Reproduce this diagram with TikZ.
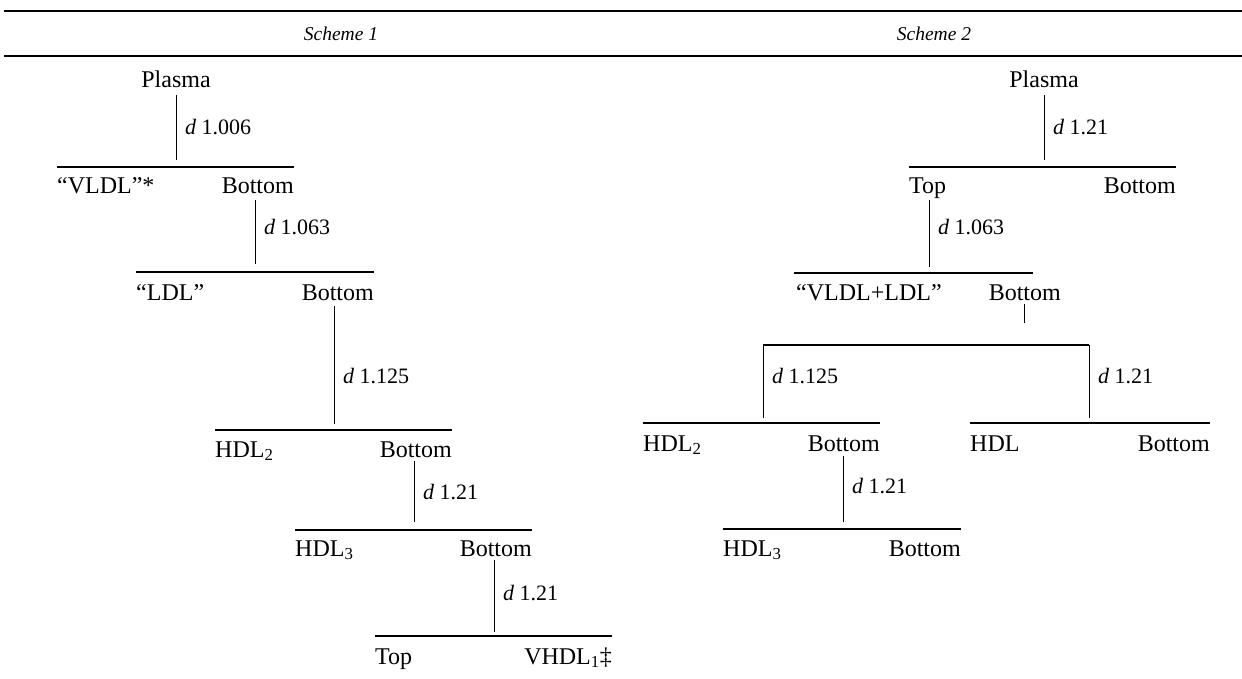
\documentclass[tikz,border=0pt]{standalone}
\usepackage{fontspec}
\setmainfont{Liberation Serif}
\begin{document}
\begin{tikzpicture}[x=1pt,y=-1pt,
  lbl/.style={inner sep=0pt,font=\fontsize{24}{28}\selectfont},
  lw/.style={lbl,anchor=base west},
  le/.style={lbl,anchor=base east},
  lc/.style={lbl,anchor=base},
  dl/.style={inner sep=0pt,anchor=base west,font=\fontsize{22}{26}\selectfont},
  hd/.style={inner sep=0pt,font=\fontsize{19.5}{22}\selectfont\itshape},
  rule/.style={line width=1.1pt},
  conn/.style={line width=0.9pt},
  hrule/.style={line width=1.6pt}]
\useasboundingbox (0,0) rectangle (1242,679);
% header
\coordinate (t1) at (4,11); \coordinate (t2) at (1242,11);
\coordinate (b1) at (4,56); \coordinate (b2) at (1242,56);
\draw[hrule] (t1) -- (t2);
\draw[hrule] (b1) -- (b2);
\node[hd] (h1) at (341,34) {Scheme 1};
\node[hd] (h2) at (934,34) {Scheme 2};

% ---------- Scheme 1 ----------
\node[lc] (p1) at (176,88) {Plasma};
\coordinate (p1a) at (176,95); \coordinate (p1b) at (176,160);
\draw[conn] (p1a) -- (p1b);
\node[dl] (d11) at (185,135) {{\itshape d} 1.006};
\coordinate (r1a) at (57,167); \coordinate (r1b) at (294,167);
\draw[rule] (r1a) -- (r1b);
\node[lw] (vldl) at (57,194) {“VLDL”*};
\node[le] (bo1) at (294,194) {Bottom};

\coordinate (v2a) at (255,200); \coordinate (v2b) at (255,264);
\draw[conn] (v2a) -- (v2b);
\node[dl] (d12) at (264,235) {{\itshape d} 1.063};
\coordinate (r2a) at (136,272); \coordinate (r2b) at (374,272);
\draw[rule] (r2a) -- (r2b);
\node[lw] (ldl) at (136,300) {“LDL”};
\node[le] (bo2) at (374,300) {Bottom};

\coordinate (v3a) at (334,306); \coordinate (v3b) at (334,424);
\draw[conn] (v3a) -- (v3b);
\node[dl] (d13) at (343,383) {{\itshape d} 1.125};
\coordinate (r3a) at (215,430); \coordinate (r3b) at (452,430);
\draw[rule] (r3a) -- (r3b);
\node[lw] (hdl2a) at (215,457) {HDL\textsubscript{2}};
\node[le] (bo3) at (452,457) {Bottom};

\coordinate (v4a) at (414,461); \coordinate (v4b) at (414,522);
\draw[conn] (v4a) -- (v4b);
\node[dl] (d14) at (423,499) {{\itshape d} 1.21};
\coordinate (r4a) at (295,530); \coordinate (r4b) at (532,530);
\draw[rule] (r4a) -- (r4b);
\node[lw] (hdl3a) at (295,556) {HDL\textsubscript{3}};
\node[le] (bo4) at (532,556) {Bottom};

\coordinate (v5a) at (494,560); \coordinate (v5b) at (494,632);
\draw[conn] (v5a) -- (v5b);
\node[dl] (d15) at (503,600) {{\itshape d} 1.21};
\coordinate (r5a) at (375,636); \coordinate (r5b) at (612,636);
\draw[rule] (r5a) -- (r5b);
\node[lw] (top1) at (375,664) {Top};
\node[le] (vhdl) at (612,664) {VHDL\textsubscript{1}‡};

% ---------- Scheme 2 ----------
\node[lc] (p2) at (1044,88) {Plasma};
\coordinate (q1a) at (1044,95); \coordinate (q1b) at (1044,160);
\draw[conn] (q1a) -- (q1b);
\node[dl] (d21) at (1053,135) {{\itshape d} 1.21};
\coordinate (s1a) at (909,167); \coordinate (s1b) at (1176,167);
\draw[rule] (s1a) -- (s1b);
\node[lw] (top2) at (909,194) {Top};
\node[le] (bo21) at (1176,194) {Bottom};

\coordinate (q2a) at (929,200); \coordinate (q2b) at (929,267);
\draw[conn] (q2a) -- (q2b);
\node[dl] (d22) at (938,235) {{\itshape d} 1.063};
\coordinate (s2a) at (794,273); \coordinate (s2b) at (1033,273);
\draw[rule] (s2a) -- (s2b);
\node[lw] (vl) at (796,300) {“VLDL+LDL”};
\node[le] (bo22) at (1061,300) {Bottom};

\coordinate (q3a) at (1024,304); \coordinate (q3b) at (1024,323);
\draw[conn] (q3a) -- (q3b);
\coordinate (brl) at (763,345); \coordinate (brr) at (1089,345);
\draw[rule] (brl) -- (brr);
\coordinate (q4b) at (763,418); \coordinate (q5b) at (1089,418);
\draw[conn] (brl) -- (q4b);
\draw[conn] (brr) -- (q5b);
\node[dl] (d23) at (772,383) {{\itshape d} 1.125};
\node[dl] (d24) at (1098,383) {{\itshape d} 1.21};

\coordinate (s3a) at (643,423); \coordinate (s3b) at (880,423);
\draw[rule] (s3a) -- (s3b);
\node[lw] (hdl2b) at (643,451) {HDL\textsubscript{2}};
\node[le] (bo23) at (880,451) {Bottom};
\coordinate (s4a) at (970,423); \coordinate (s4b) at (1210,423);
\draw[rule] (s4a) -- (s4b);
\node[lw] (hdl) at (970,451) {HDL};
\node[le] (bo24) at (1210,451) {Bottom};

\coordinate (q6a) at (843,456); \coordinate (q6b) at (843,522);
\draw[conn] (q6a) -- (q6b);
\node[dl] (d25) at (852,493) {{\itshape d} 1.21};
\coordinate (s5a) at (723,529); \coordinate (s5b) at (961,529);
\draw[rule] (s5a) -- (s5b);
\node[lw] (hdl3b) at (723,556) {HDL\textsubscript{3}};
\node[le] (bo25) at (961,556) {Bottom};
\end{tikzpicture}
\end{document}
